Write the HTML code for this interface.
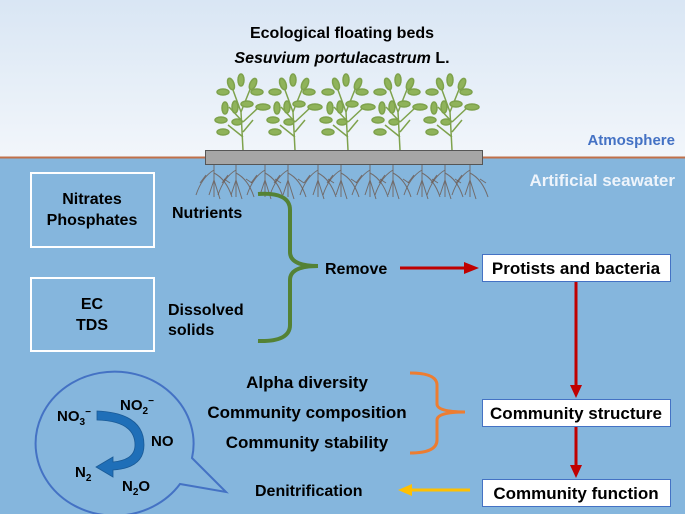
<!DOCTYPE html>
<html><head><style>
body{margin:0;width:685px;height:514px;overflow:hidden;font-family:"Liberation Sans",Arial,sans-serif;}
</style></head><body>
<svg width="685" height="514" viewBox="0 0 685 514" xmlns="http://www.w3.org/2000/svg" font-family="Liberation Sans, Arial, sans-serif" font-weight="bold">
<defs>
<linearGradient id="sky" x1="0" y1="0" x2="0" y2="1"><stop offset="0" stop-color="#d9e6f4"/><stop offset="1" stop-color="#f2f6fb"/></linearGradient>
<g id="plant" fill="#8fb35a" stroke="#7ea24c" stroke-width="1.5">
<path d="M0 68 L-2 30 L-10 8 M-2 30 L8 5 M0 40 L-14 25 M0 40 L16 25 M0 55 L-15 43 M0 50 L10 38" fill="none"/>
<ellipse cx="-12" cy="2" rx="3" ry="6" transform="rotate(-20 -12 2)"/>
<ellipse cx="-2" cy="-2" rx="3" ry="6"/>
<ellipse cx="10" cy="2" rx="3" ry="6" transform="rotate(25 10 2)"/>
<ellipse cx="14" cy="10" rx="6" ry="3"/>
<ellipse cx="-20" cy="10" rx="6" ry="3"/>
<ellipse cx="-18" cy="26" rx="3" ry="6"/>
<ellipse cx="-8" cy="25" rx="3" ry="6"/>
<ellipse cx="20" cy="25" rx="7" ry="3"/>
<ellipse cx="4" cy="22" rx="6" ry="3"/>
<ellipse cx="-22" cy="38" rx="6" ry="3"/>
<ellipse cx="-20" cy="50" rx="6" ry="3"/>
<ellipse cx="-6" cy="40" rx="5" ry="3"/>
</g>
<g id="root" fill="none" stroke="#6d5a50" stroke-width="1" opacity="0.8">
<path d="M0 0 L0 32 M0 5 Q-12 12 -18 30 M-8 10 L-14 18 M0 8 Q12 14 18 32 M10 14 L16 18 M0 15 L-5 30 M0 15 L6 34"/>
</g>
</defs>
<rect width="685" height="158" fill="url(#sky)"/>
<rect y="158" width="685" height="356" fill="#85b6dd"/>
<line x1="0" y1="157.5" x2="685" y2="157.5" stroke="#c0704a" stroke-width="2"/>
<text x="342" y="38" text-anchor="middle" font-size="16">Ecological floating beds</text>
<text x="342" y="63" text-anchor="middle" font-size="16"><tspan font-style="italic">Sesuvium portulacastrum</tspan> L.</text>
<use href="#plant" x="243" y="82"/><use href="#plant" x="295" y="82"/><use href="#plant" x="348" y="82"/><use href="#plant" x="400" y="82"/><use href="#plant" x="452" y="82"/>
<use href="#root" x="236" y="165"/><use href="#root" x="288" y="165"/><use href="#root" x="341" y="165"/><use href="#root" x="393" y="165"/><use href="#root" x="445" y="165"/>
<use href="#root" x="214" y="165"/><use href="#root" x="265" y="165"/><use href="#root" x="318" y="165"/><use href="#root" x="370" y="165"/><use href="#root" x="422" y="165"/><use href="#root" x="470" y="165"/>
<rect x="205.5" y="150.5" width="277" height="14" fill="#a6a6a6" stroke="#555" stroke-width="1"/>
<text x="675" y="145" text-anchor="end" font-size="15" fill="#4472c4">Atmosphere</text>
<text x="675" y="186" text-anchor="end" font-size="17" fill="#eef4fb">Artificial seawater</text>
<rect x="31" y="173" width="123" height="74" fill="none" stroke="#fff" stroke-width="2"/>
<text x="92" y="204" text-anchor="middle" font-size="16">Nitrates</text>
<text x="92" y="225" text-anchor="middle" font-size="16">Phosphates</text>
<rect x="31" y="278" width="123" height="73" fill="none" stroke="#fff" stroke-width="2"/>
<text x="92" y="309" text-anchor="middle" font-size="16">EC</text>
<text x="92" y="330" text-anchor="middle" font-size="16">TDS</text>
<text x="172" y="218" font-size="16">Nutrients</text>
<text x="168" y="315" font-size="16">Dissolved</text>
<text x="168" y="335" font-size="16">solids</text>
<path d="M258 194 Q290 192 290 210 L290 252 Q290 266 318 266 Q290 266 290 280 L290 325 Q290 342 258 341" fill="none" stroke="#548235" stroke-width="4"/>
<text x="325" y="274" font-size="16">Remove</text>
<line x1="400" y1="268" x2="466" y2="268" stroke="#c00000" stroke-width="3"/>
<polygon points="464,262 479,268 464,274" fill="#c00000"/>
<g stroke="#4472c4" stroke-width="1" fill="#fff">
<rect x="482.5" y="254.5" width="188" height="27"/>
<rect x="482.5" y="399.5" width="188" height="27"/>
<rect x="482.5" y="479.5" width="188" height="27"/>
</g>
<text x="576" y="274" text-anchor="middle" font-size="17">Protists and bacteria</text>
<text x="576" y="419" text-anchor="middle" font-size="17">Community structure</text>
<text x="576" y="499" text-anchor="middle" font-size="17">Community function</text>
<line x1="576" y1="282" x2="576" y2="386" stroke="#c00000" stroke-width="3"/>
<polygon points="570,385 576,398 582,385" fill="#c00000"/>
<line x1="576" y1="427" x2="576" y2="466" stroke="#c00000" stroke-width="3"/>
<polygon points="570,465 576,478 582,465" fill="#c00000"/>
<line x1="470" y1="490" x2="410" y2="490" stroke="#ffc000" stroke-width="3"/>
<polygon points="412,484 398,490 412,496" fill="#ffc000"/>
<text x="255" y="496" font-size="16">Denitrification</text>
<path d="M410 373 Q437 373 437 385 L437 404 Q437 412 465 412 Q437 412 437 420 L437 440 Q437 453 410 453" fill="none" stroke="#ed7d31" stroke-width="3"/>
<text x="307" y="388" text-anchor="middle" font-size="17">Alpha diversity</text>
<text x="307" y="418" text-anchor="middle" font-size="17">Community composition</text>
<text x="307" y="448" text-anchor="middle" font-size="17">Community stability</text>
<path d="M192 458 L226 492 L180 484 A79 72 0 1 1 192 458 Z" fill="none" stroke="#4472c4" stroke-width="2"/>
<path d="M97 411 Q144 413 144 445 Q144 468 113 470 L113 477 L96 467 L113 457 L113 462 Q135 460 135 445 Q135 421 97 420 Z" fill="#1f6fb8" stroke="#1a5a96" stroke-width="0.8"/>
<text x="57" y="421" font-size="15">NO<tspan font-size="10" dy="4">3</tspan><tspan font-size="10" dy="-10">−</tspan></text>
<text x="120" y="410" font-size="15">NO<tspan font-size="10" dy="4">2</tspan><tspan font-size="10" dy="-10">−</tspan></text>
<text x="151" y="446" font-size="15">NO</text>
<text x="75" y="477" font-size="15">N<tspan font-size="10" dy="4">2</tspan></text>
<text x="122" y="491" font-size="15">N<tspan font-size="10" dy="4">2</tspan><tspan dy="-4">O</tspan></text>
</svg>
</body></html>
